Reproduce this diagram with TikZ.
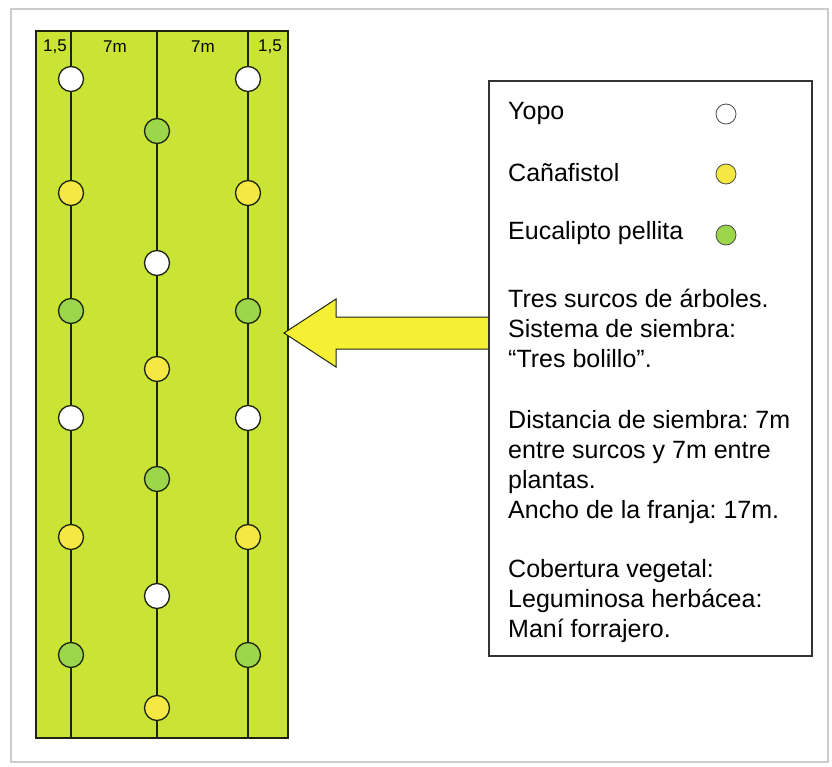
\documentclass[tikz,border=0pt]{standalone}
\usepackage{fontspec}
\setmainfont{Liberation Sans}
\usetikzlibrary{positioning}

\definecolor{fieldgreen}{RGB}{201,228,52}
\definecolor{treegreen}{RGB}{156,214,74}
\definecolor{treeyellow}{RGB}{246,232,66}
\definecolor{arrowyellow}{RGB}{246,240,52}
\definecolor{rowline}{RGB}{28,36,16}

\frenchspacing

\begin{document}
\begin{tikzpicture}[
		x=1pt,y=-1pt,
		tree/.style={
			draw=rowline,
			circle,
			line width=1.3pt,
			minimum size=25pt,
			inner sep=0pt
		},
		keytree/.style={
			draw=black!70,
			circle,
			line width=0.8pt,
			minimum size=20pt,
			inner sep=0pt
		},
		measure/.style={font=\fontsize{17}{19}\selectfont, inner sep=0pt},
		legendtext/.style={
			font=\fontsize{25}{30}\selectfont,
			align=left,
			anchor=north west,
			inner sep=0pt
		},
		row/.style={draw=rowline,line width=2pt}
		]
		
		\useasboundingbox (0,0) rectangle (832,767);
		
		% outer frame
		\draw[black!20,line width=1.5pt] (11,9) rectangle (828,762);
		
		% field strip
		\draw[fill=fieldgreen,draw=rowline,line width=2.5pt] (36,31) coordinate (fieldnw) rectangle (288,738) coordinate (fieldse);
		
		% rows of trees
		\coordinate (lefttop) at (71,31);
		\coordinate (leftbot) at (71,738);
		\coordinate (midtop) at (157,31);
		\coordinate (midbot) at (157,738);
		\coordinate (righttop) at (248,31);
		\coordinate (rightbot) at (248,738);
		\draw[row] (lefttop) -- (leftbot);
		\draw[row] (midtop) -- (midbot);
		\draw[row] (righttop) -- (rightbot);
		
		\foreach \y/\c [count=\i] in {79/white,193/treeyellow,311/treegreen,418/white,537/treeyellow,655/treegreen}
		{
			\node[tree,fill=\c] (left\i) at (71,\y) {};
			\node[tree,fill=\c] (right\i) at (248,\y) {};
		}
		\foreach \y/\c [count=\i] in {131/treegreen,263/white,369/treeyellow,479/treegreen,596/white,708/treeyellow}
			\node[tree,fill=\c] (mid\i) at (157,\y) {};
		
		% spacing labels
		\node[measure] (edgeleft) at (55,47) {1,5};
		\node[measure] (gapleft) at (115,47) {7m};
		\node[measure] (gapright) at (203,47) {7m};
		\node[measure] (edgeright) at (270,47) {1,5};
		
		% pointer arrow
		\draw[fill=arrowyellow,draw=rowline,line width=1pt]
			(489,317) -- (336,317) -- (336,299) -- (284,333) -- (336,367) -- (336,349) -- (489,349);
		
		% legend box
		\draw[fill=white,draw=black!80,line width=1.2pt] (489,81) rectangle (812,656);
		
		\node[legendtext,anchor=west] (yopo) at (508,113) {Yopo};
		\node[legendtext,anchor=west] (cana) at (508,173) {Cañafistol};
		\node[legendtext,anchor=west] (euca) at (508,233) {Eucalipto pellita};
		\node[keytree,fill=white] (yopokey) at (726,114) {};
		\node[keytree,fill=treeyellow] (canakey) at (726,174) {};
		\node[keytree,fill=treegreen] (eucakey) at (726,235) {};
		
		\node[legendtext] (surcos) at (508,289) {Tres surcos de árboles.\\Sistema de siembra:\\“Tres bolillo”.};
		\node[legendtext] (distancia) at (508,410) {Distancia de siembra: 7m\\entre surcos y 7m entre\\plantas.\\Ancho de la franja: 17m.};
		\node[legendtext] (cobertura) at (508,559) {Cobertura vegetal:\\Leguminosa herbácea:\\Maní forrajero.};
		
	\end{tikzpicture}
\end{document}
